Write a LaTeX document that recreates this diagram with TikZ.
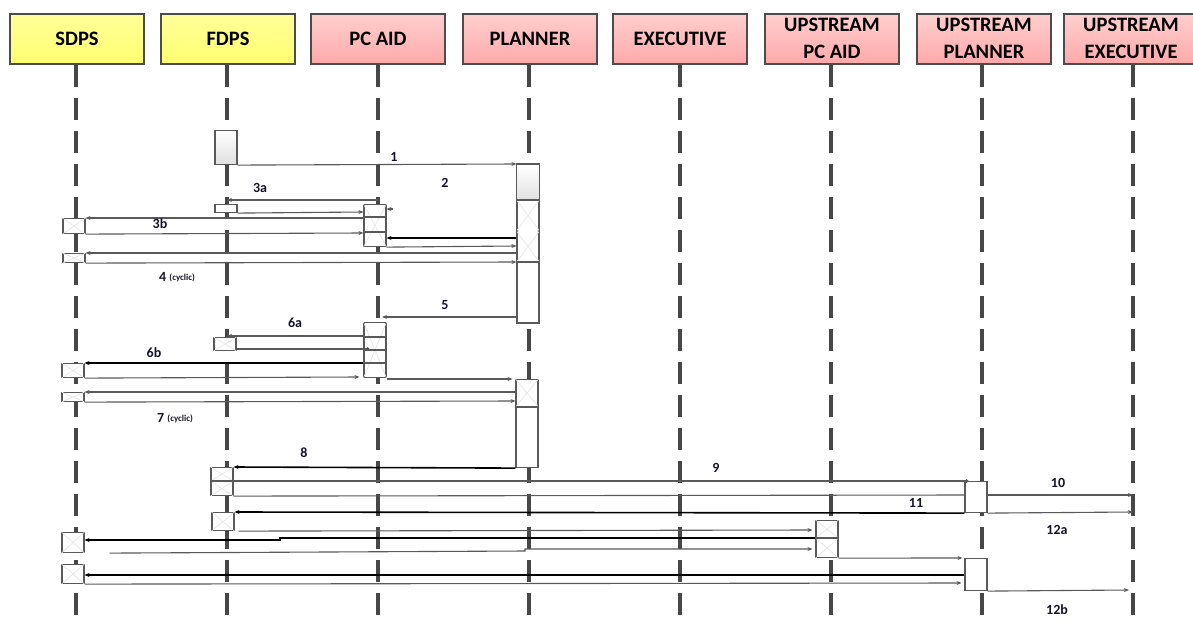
\documentclass[tikz,border=0pt]{standalone}
\usepackage{fontspec}
\setmainfont{Carlito}
\usetikzlibrary{arrows.meta,calc}
\definecolor{hdyel1}{HTML}{FFFF9A}
\definecolor{hdyel2}{HTML}{FFFF70}
\definecolor{hdpink1}{HTML}{FFCFCF}
\definecolor{hdpink2}{HTML}{FFA9A9}
\definecolor{lblcol}{HTML}{15152A}
\begin{document}
\begin{tikzpicture}[x=1pt,y=-1pt,
  head/.style={draw=black!70, line width=1.5pt, minimum width=134pt, minimum height=50pt,
    inner sep=0pt, anchor=north, align=center, font=\bfseries\fontsize{20.5}{27}\selectfont},
  yhead/.style={head, top color=hdyel1, bottom color=hdyel2},
  phead/.style={head, top color=hdpink1, bottom color=hdpink2},
  life/.style={line width=3.6pt, draw=black!72, dash pattern=on 22pt off 11pt},
  act/.style={draw=black!65, line width=1.1pt, fill=white, minimum width=22pt, inner sep=0pt, anchor=north},
  gact/.style={act, top color=white, bottom color=black!12},
  hx/.style={draw=black!10, line width=0.6pt},
  dv/.style={draw=black!65, line width=1.1pt},
  msg/.style={draw=black!65, line width=1.1pt, -{Stealth[length=5pt,width=4pt]}},
  bmsg/.style={msg, draw=black, line width=1.6pt},
  pl/.style={draw=black!65, line width=1.1pt},
  lbl/.style={font=\bfseries\fontsize{14}{16}\selectfont, text=lblcol, inner sep=0pt},
  sml/.style={font=\bfseries\fontsize{9}{10}\selectfont, text=lblcol, inner sep=0pt}
]
\useasboundingbox (0,0) rectangle (1193,621);
\fill[white] (0,0) rectangle (1193,621);

% headers
\node[yhead] (hS) at (77,13) {SDPS};
\node[yhead] (hF) at (228,13) {FDPS};
\node[phead] (hC) at (378,13) {PC AID};
\node[phead] (hP) at (530,13) {PLANNER};
\node[phead] (hE) at (680,13) {EXECUTIVE};
\node[phead] (hUC) at (832,13) {UPSTREAM\\PC AID};
\node[phead] (hUP) at (984,13) {UPSTREAM\\PLANNER};
\node[phead] (hUE) at (1131,13) {UPSTREAM\\EXECUTIVE};

% lifelines
\coordinate (eS) at (76,625);
\coordinate (eF) at (227,625);
\coordinate (eC) at (378,625);
\coordinate (eP) at (529,625);
\coordinate (eE) at (680,625);
\coordinate (eUC) at (831,625);
\coordinate (eUP) at (982,625);
\coordinate (eUE) at (1133,625);
\draw[life] (hS.south -| eS) -- (eS);
\draw[life] (hF.south -| eF) -- (eF);
\draw[life] (hC.south -| eC) -- (eC);
\draw[life] (hP.south -| eP) -- (eP);
\draw[life] (hE.south -| eE) -- (eE);
\draw[life] (hUC.south -| eUC) -- (eUC);
\draw[life] (hUP.south -| eUP) -- (eUP);
\draw[life] (hUE.south -| eUE) -- (eUE);

% activation boxes
\node[gact, minimum height=34pt] (F1) at (226,130) {};
\node[act, minimum height=158pt] (P1) at (528,164) {};
\fill[top color=white, bottom color=black!12] ([xshift=0.6pt,yshift=-0.6pt]P1.north west) rectangle ([xshift=-0.6pt]P1.north east |- 0,200);
\draw[hx] (P1.west |- 0,200) -- (P1.east |- 0,231) (P1.east |- 0,200) -- (P1.west |- 0,231)
          (P1.west |- 0,231) -- (P1.east |- 0,262) (P1.east |- 0,231) -- (P1.west |- 0,262);
\draw[dv] (P1.west |- 0,200) -- (P1.east |- 0,200) (P1.west |- 0,262) -- (P1.east |- 0,262);
\draw[draw=black!65, line width=1.1pt] (P1.north west) rectangle (P1.south east);

\node[act, minimum height=8pt] (F2) at (226,204) {};
\node[act, minimum height=42pt] (C1) at (375,204) {};
\draw[hx] (C1.north west) -- (C1.south east) (C1.north east) -- (C1.south west);
\draw[dv] (C1.west |- 0,217) -- (C1.east |- 0,217) (C1.west |- 0,232) -- (C1.east |- 0,232);

\node[act, minimum height=15pt] (S1) at (74,218) {};
\draw[hx] (S1.north west) -- (S1.south east) (S1.north east) -- (S1.south west);
\node[act, minimum height=9pt] (S2) at (74,253) {};
\draw[hx] (S2.north west) -- (S2.south east) (S2.north east) -- (S2.south west);

\node[act, minimum height=55pt] (C2) at (375,322) {};
\draw[hx] (C2.north west) -- (C2.south east) (C2.north east) -- (C2.south west);
\draw[dv] (C2.west |- 0,337) -- (C2.east |- 0,337) (C2.west |- 0,350) -- (C2.east |- 0,350)
          (C2.west |- 0,363) -- (C2.east |- 0,363);
\node[act, minimum height=13pt] (F3) at (225,337) {};
\draw[hx] (F3.north west) -- (F3.south east) (F3.north east) -- (F3.south west);
\node[act, minimum height=14pt] (S3) at (73,363) {};
\draw[hx] (S3.north west) -- (S3.south east) (S3.north east) -- (S3.south west);

\node[act, minimum height=88pt] (P2) at (527,379) {};
\draw[hx] (P2.north west) -- (P2.east |- 0,407) (P2.north east) -- (P2.west |- 0,407);
\draw[dv] (P2.west |- 0,407) -- (P2.east |- 0,407);
\node[act, minimum height=9pt] (S4) at (73,392) {};
\draw[hx] (S4.north west) -- (S4.south east) (S4.north east) -- (S4.south west);

\node[act, minimum height=28pt] (F4) at (222,467) {};
\draw[hx] (F4.north west) -- (F4.east |- 0,481) (F4.north east) -- (F4.west |- 0,481)
          (F4.west |- 0,481) -- (F4.south east) (F4.east |- 0,481) -- (F4.south west);
\draw[dv] (F4.west |- 0,481) -- (F4.east |- 0,481);
\node[act, minimum height=31pt] (U1) at (976,481) {};
\node[act, minimum height=18pt] (F5) at (223,512) {};
\draw[hx] (F5.north west) -- (F5.south east) (F5.north east) -- (F5.south west);
\node[act, minimum height=37pt] (UC1) at (827,520) {};
\draw[hx] (UC1.north west) -- (UC1.east |- 0,538) (UC1.north east) -- (UC1.west |- 0,538)
          (UC1.west |- 0,538) -- (UC1.south east) (UC1.east |- 0,538) -- (UC1.south west);
\draw[dv] (UC1.west |- 0,538) -- (UC1.east |- 0,538);
\node[act, minimum height=20pt] (S5) at (73,532) {};
\draw[hx] (S5.north west) -- (S5.south east) (S5.north east) -- (S5.south west);
\node[act, minimum height=32pt] (U2) at (976,558) {};
\node[act, minimum height=19pt] (S6) at (73,564) {};
\draw[hx] (S6.north west) -- (S6.south east) (S6.north east) -- (S6.south west);

% messages
\draw[msg] (F1.south east) -- (P1.north west);
\node[lbl] (l1) at (394,157) {1};
\node[lbl] (l2) at (445,183) {2};

\draw[msg] (eC |- 0,200) -- (eF |- 0,200);
\node[lbl] (l3a) at (260,188) {3a};
\draw[msg] (F2.south east) -- (C1.west |- 0,212);
\draw[msg] ([xshift=6pt]C1.east |- 0,209) -- (C1.east |- 0,209);
\draw[msg] (C1.west |- 0,218) -- (S1.north east);
\node[lbl] (l3b) at (160,224) {3b};
\draw[msg] (S1.south east) -- (C1.west |- 0,233);
\draw[bmsg] (P1.west |- 0,238) -- (C1.east |- 0,238);
\draw[msg] (C1.south east) -- (P1.west |- 0,246);

\draw[msg] (P1.west |- 0,253) -- (S2.north east);
\draw[msg] (S2.south east) -- (P1.west |- 0,262);
\node[lbl, anchor=west] (l4) at (159,277) {4 \raisebox{1pt}{\fontsize{9}{10}\selectfont(cyclic)}};

\draw[msg] (P1.west |- 0,317) -- ([xshift=4pt]eC |- 0,317);
\node[lbl] (l5) at (445,305) {5};

\draw[msg] (C2.west |- 0,336) -- (eF |- 0,336);
\node[lbl] (l6a) at (295,323) {6a};
\draw[pl, -{Circle[length=3.5pt]}] (F3.south east |- 0,349) -- (C2.west |- 0,349) -- ++(6,0);
\draw[bmsg] (C2.west |- 0,363) -- (S3.north east);
\node[lbl] (l6b) at (154,353) {6b};
\draw[msg] (S3.south east) -- ([xshift=-4pt]C2.west |- 0,377);
\draw[msg] (C2.south east |- 0,379) -- ([xshift=-3pt]P2.north west);

\draw[msg] (P2.west |- 0,392) -- (S4.north east);
\draw[msg] (S4.south east) -- (P2.west |- 0,401);
\node[lbl, anchor=west] (l7) at (157,418) {7 \raisebox{1pt}{\fontsize{9}{10}\selectfont(cyclic)}};

\draw[bmsg] (P2.south west) -- (F4.north east);
\node[lbl] (l8) at (304,453) {8};
\draw[pl, -{Circle[length=3.5pt]}] (F4.east |- 0,481) -- (U1.north west) -- ++(4,0);
\node[lbl] (l9) at (716,468) {9};
\draw[pl] (F4.south east) -- (U1.west |- 0,495);
\draw[msg] (U1.east |- 0,495) -- (eUE |- 0,495);
\node[lbl] (l10) at (1058,483) {10};
\draw[bmsg] (U1.south west) -- (F5.north east);
\node[lbl] (l11) at (916,503) {11};
\draw[msg] (U1.south east) -- (eUE |- 0,512);
\node[lbl] (l12a) at (1057,530) {12a};

\draw[msg] ([xshift=4pt]F5.south east) -- ([xshift=-3pt]UC1.west |- 0,530);
\draw[bmsg] (UC1.west |- 0,538) -- (280,538) -- (280,540) -- (S5.east |- 0,540);
\draw[msg] ([xshift=25pt]S5.south east) -- (525,551) -- (525,549) -- ([xshift=-3pt]UC1.west |- 0,549);
\draw[msg] (UC1.south east) -- ([xshift=-2pt]U2.north west);
\draw[bmsg] (U2.west |- 0,575) -- (S6.east |- 0,575);
\draw[msg] (S6.south east) -- ([xshift=-3pt]U2.west |- 0,583);
\draw[msg] (U2.south east) -- ([xshift=-4pt]eUE |- 0,590);
\node[lbl] (l12b) at (1057,610) {12b};
\end{tikzpicture}
\end{document}
